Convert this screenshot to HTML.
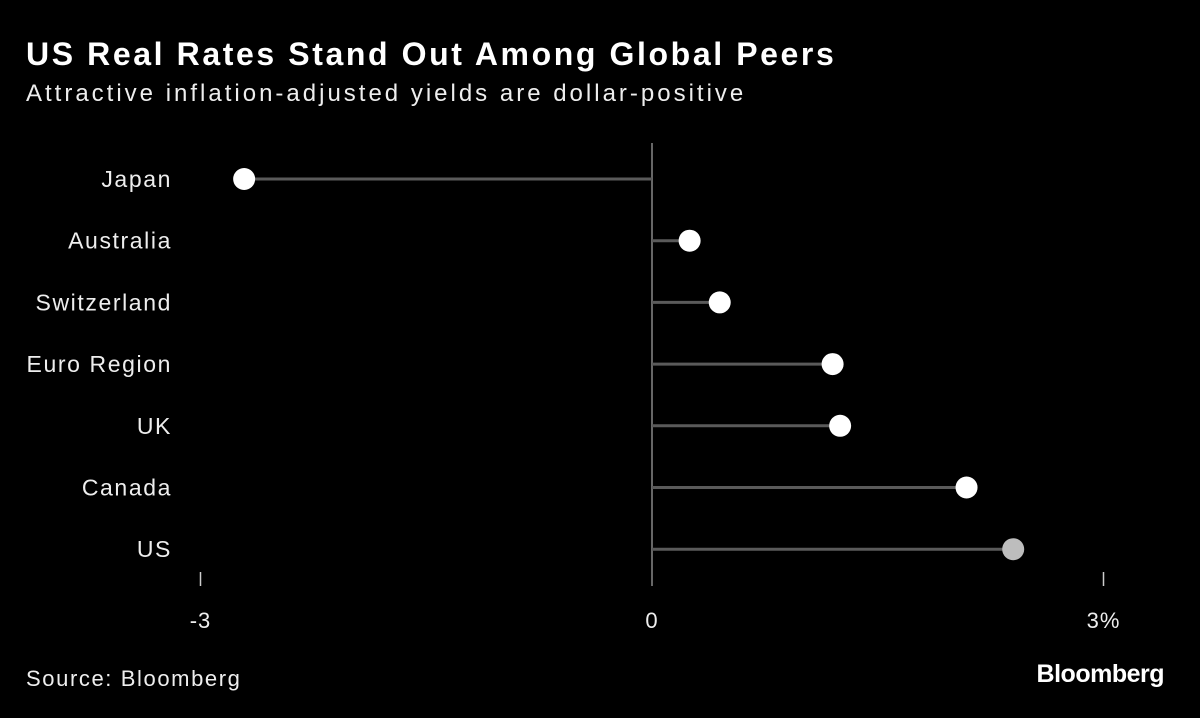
<!DOCTYPE html>
<html>
<head>
<meta charset="utf-8">
<style>
  html, body { margin: 0; padding: 0; background: #000; }
  body { width: 1200px; height: 718px; overflow: hidden; font-family: "Liberation Sans", sans-serif; color: #fff; position: relative; }
  .title { position: absolute; left: 26px; top: 36px; font-size: 32px; font-weight: bold; letter-spacing: 2.6px; }
  .subtitle { position: absolute; left: 26px; top: 80px; font-size: 24px; color: #eee; letter-spacing: 3px; }
  .source { position: absolute; left: 26px; top: 666px; font-size: 22px; color: #eee; letter-spacing: 1.6px; }
  .brand { position: absolute; right: 36px; top: 660px; font-size: 25px; font-weight: bold; letter-spacing: -0.5px; }
  svg { position: absolute; left: 0; top: 0; }
</style>
</head>
<body>
<div class="title">US Real Rates Stand Out Among Global Peers</div>
<div class="subtitle">Attractive inflation-adjusted yields are dollar-positive</div>
<svg id="chart" width="1200" height="718"></svg>
<div class="source">Source: Bloomberg</div>
<div class="brand">Bloomberg</div>
<script>
const countries = ["Japan", "Australia", "Switzerland", "Euro Region", "UK", "Canada", "US"];
const realRates = [-2.71, 0.25, 0.45, 1.2, 1.25, 2.09, 2.4];
const tickValues = [-3, 0, 3];
const tickLabels = ["-3", "0", "3%"];

const svg = document.getElementById('chart');
const NS = 'http://www.w3.org/2000/svg';
function xScale(v) { return 652 + v * 150.5; }
function yScale(i) { return 179 + i * 61.7; }
function mk(tag, attrs) {
  const e = document.createElementNS(NS, tag);
  for (const k in attrs) e.setAttribute(k, attrs[k]);
  svg.appendChild(e);
  return e;
}
const zl = mk('line', {x1: xScale(0), x2: xScale(0), y1: 143, y2: 586, stroke: '#888', 'stroke-width': 1.5});


tickValues.forEach((v, i) => {
  if (v !== 0) {
    const t = mk('line', {x1: xScale(v), x2: xScale(v), y1: 572, y2: 586, stroke: '#ccc', 'stroke-width': 1.5});
    
    
  }
  const lb = mk('text', {x: xScale(v), y: 628, fill: '#eee', 'font-size': 22, 'text-anchor': 'middle', 'letter-spacing': 1, 'font-family': 'Liberation Sans, sans-serif'});
  lb.textContent = tickLabels[i];
  
  
});
countries.forEach((c, i) => {
  const y = yScale(i);
  const lab = mk('text', {x: 172, y: y + 8, fill: '#eee', 'font-size': 23, 'text-anchor': 'end', 'letter-spacing': 1.6, 'font-family': 'Liberation Sans, sans-serif'});
  lab.textContent = c;
  
  
  const ln = mk('line', {x1: xScale(0), x2: xScale(realRates[i]), y1: y, y2: y, stroke: '#5a5a5a', 'stroke-width': 3});
  
  
  const dot = mk('circle', {cx: xScale(realRates[i]), cy: y, r: 11, fill: c === 'US' ? '#bdbdbd' : '#fff'});
  
  
});
</script>
</body>
</html>
